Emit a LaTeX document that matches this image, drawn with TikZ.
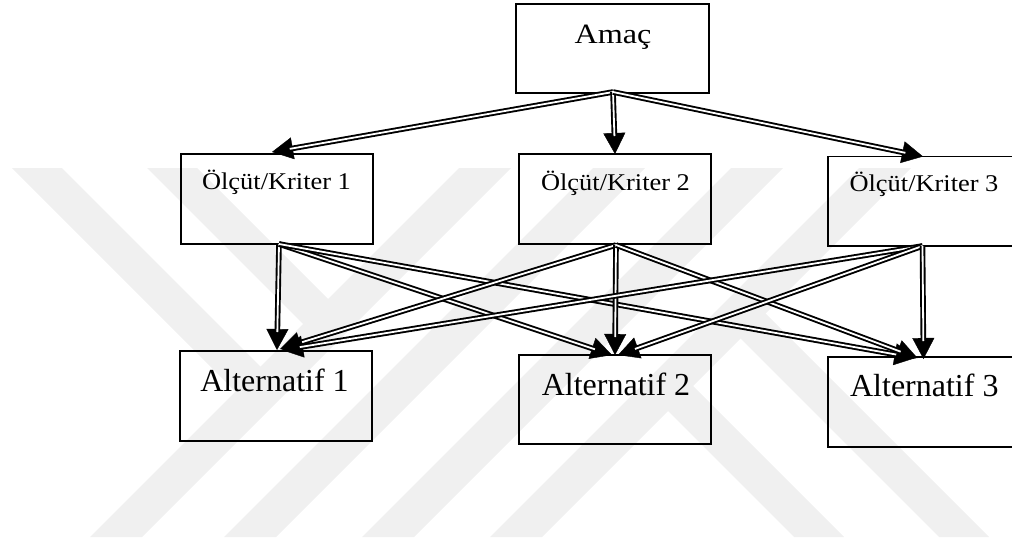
\documentclass[tikz,border=0pt]{standalone}
\usepackage{fontspec}
\setmainfont{Liberation Serif}
\usetikzlibrary{arrows.meta}
\definecolor{wmgray}{RGB}{240,240,240}
\begin{document}
\begin{tikzpicture}[x=1pt,y=-1pt,
  box/.style={draw=black, line width=1.9pt, inner sep=0pt, outer sep=0pt},
  boxtext/.style={anchor=base, inner sep=0pt},
  goaltext/.style={boxtext, font=\fontsize{28}{30}\selectfont},
  crittext/.style={boxtext, font=\fontsize{24}{26}\selectfont},
  alttext/.style={boxtext, font=\fontsize{32}{34}\selectfont},
  % a double shaft with a solid triangular head
  relation/.style={
    preaction={draw=black, line width=0.4pt, shorten >=0pt,
      -{Triangle[length=21pt,width=22pt]}},
    draw=black, line width=1.9pt, double=white, double distance=1.8pt,
    shorten >=18pt},
  stripe/.style={fill=wmgray}
]
\useasboundingbox (0,0) rectangle (1012,543);
\clip (0,0) rectangle (1012,543);

% background stripes
\fill[stripe] (90,537) -- (142,537) -- (511,168) -- (459,168) -- cycle;
\fill[stripe] (224,537) -- (276,537) -- (645,168) -- (593,168) -- cycle;
\fill[stripe] (362,537) -- (414,537) -- (783,168) -- (731,168) -- cycle;
\fill[stripe] (490,537) -- (542,537) -- (911,168) -- (859,168) -- cycle;
\fill[stripe] (12,168) -- (62,168) -- (260.5,366.5) -- (261.5,417.5) -- cycle;
\fill[stripe] (147,168) -- (197,168) -- (328,299) -- (329,350) -- cycle;
\fill[stripe] (989,537) -- (939,537) -- (740.5,338.5) -- (739.5,287.5) -- cycle;
\fill[stripe] (844,537) -- (794,537) -- (668,411) -- (667,360) -- cycle;

% boxes
\node[box, minimum width=193pt, minimum height=89pt] (amac) at (612.5,48.5) {};
\node[box, minimum width=192pt, minimum height=90pt] (k1) at (277,199) {};
\node[box, minimum width=192pt, minimum height=90pt] (k2) at (615,199) {};
\node[box, minimum width=193pt, minimum height=89.5pt] (k3) at (924.5,201.25) {};
\node[box, minimum width=192pt, minimum height=90pt] (a1) at (276,396) {};
\node[box, minimum width=192pt, minimum height=89pt] (a2) at (615,399.5) {};
\node[box, minimum width=193pt, minimum height=90pt] (a3) at (924.5,402) {};

% labels
\node[goaltext] (amacT) at (613,43.3) {\scalebox{1.15}[1]{Amaç}};
\node[crittext] (k1T) at (276.5,189) {\scalebox{1.1}[1]{Ölçüt/Kriter 1}};
\node[crittext] (k2T) at (615.5,190) {\scalebox{1.1}[1]{Ölçüt/Kriter 2}};
\node[crittext] (k3T) at (924,191.7) {\scalebox{1.1}[1]{Ölçüt/Kriter 3}};
\node[alttext] (a1T) at (274.5,391.7) {Alternatif 1};
\node[alttext] (a2T) at (616,395) {Alternatif 2};
\node[alttext] (a3T) at (924.3,396.7) {Alternatif 3};

% goal to criteria
\draw[relation] ([xshift=0.5pt,yshift=1pt]amac.south) -- ([xshift=-5pt,yshift=2pt]k1.north);
\draw[relation] ([xshift=0.5pt,yshift=1pt]amac.south) -- (k2.north);
\draw[relation] ([xshift=0.5pt,yshift=1pt]amac.south) -- ([xshift=-1.5pt]k3.north);

% criteria to alternatives
\draw[relation] ([xshift=2pt]k1.south) -- ([xshift=1pt,yshift=1pt]a1.north);
\draw[relation] ([xshift=2pt]k1.south) -- ([xshift=-3pt]a2.north);
\draw[relation] ([xshift=2pt]k1.south) -- ([xshift=-9pt,yshift=-1pt]a3.north);
\draw[relation] ([xshift=1pt,yshift=-1pt]k2.south) -- ([xshift=4pt,yshift=2pt]a1.north);
\draw[relation] ([xshift=1pt,yshift=-1pt]k2.south) -- (a2.north);
\draw[relation] ([xshift=1pt,yshift=-1pt]k2.south) -- ([xshift=-7pt,yshift=-1pt]a3.north);
\draw[relation] ([xshift=-2pt]k3.south) -- ([xshift=6pt,yshift=1pt]a1.north);
\draw[relation] ([xshift=-2pt]k3.south) -- ([xshift=3pt]a2.north);
\draw[relation] ([xshift=-2pt]k3.south) -- ([xshift=-1pt,yshift=-2pt]a3.north);
\end{tikzpicture}
\end{document}
